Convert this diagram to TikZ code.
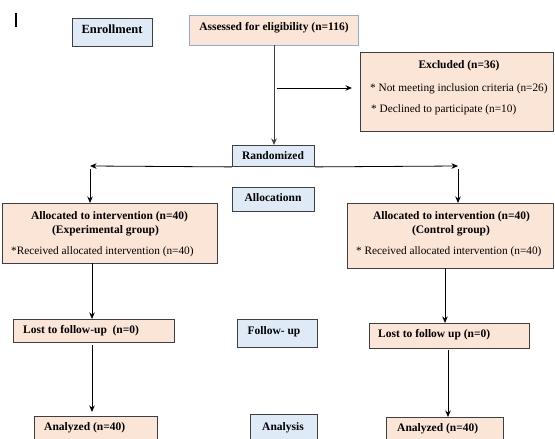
\documentclass[tikz,border=0pt]{standalone}
\usepackage{fontspec}
\setmainfont{Liberation Serif}[BoldFont={Liberation Serif Bold}]
\usetikzlibrary{arrows.meta}
\definecolor{peach}{HTML}{FBE5D6}
\definecolor{lblue}{HTML}{DEEBF7}
\definecolor{bdark}{HTML}{3F3F3F}
\definecolor{bblue}{HTML}{8FAADC}
\tikzset{
  pbox/.style={draw=bdark, fill=peach, line width=0.9pt, inner sep=0pt, anchor=north west},
  bbox/.style={draw=bdark, fill=lblue, line width=0.9pt, inner sep=0pt, anchor=north west},
  btxt/.style={inner sep=0pt, font=\fontsize{11.5}{14}\selectfont\bfseries},
  rtxt/.style={inner sep=0pt, font=\fontsize{11.3}{14}\selectfont},
  arr/.style={draw=black, line width=0.8pt, -{Stealth[length=6.5pt,width=5.5pt]}},
}
\begin{document}
\begin{tikzpicture}[x=1pt,y=-1pt]
\useasboundingbox (0,0) rectangle (555,439);
\clip (0,0) rectangle (555,439);
\fill[white] (0,0) rectangle (555,439);

% cursor mark
\draw[line width=1.6pt] (16,13) -- (16,27);

% boxes
\node[bbox, minimum width=80pt, minimum height=28pt] (enr) at (72,18) {};
\node[pbox, draw=bblue, minimum width=169pt, minimum height=30pt] (ass) at (189,15) {};
\node[pbox, minimum width=193pt, minimum height=79pt] (exc) at (360,52) {};
\node[bbox, minimum width=82pt, minimum height=21pt] (rand) at (232,145) {};
\node[bbox, minimum width=82pt, minimum height=24pt] (alloc) at (232,187) {};
\node[pbox, minimum width=215pt, minimum height=60pt] (allL) at (2,203) {};
\node[pbox, minimum width=206pt, minimum height=65pt] (allR) at (347,203) {};
\node[pbox, minimum width=161pt, minimum height=23pt] (lostL) at (13,319) {};
\node[bbox, minimum width=80pt, minimum height=28pt] (fol) at (237,319) {};
\node[pbox, minimum width=160pt, minimum height=25pt] (lostR) at (369,323) {};
\node[pbox, minimum width=123pt, minimum height=40pt] (anaL) at (34,416) {};
\node[bbox, minimum width=67pt, minimum height=40pt] (anal) at (250,414) {};
\node[pbox, minimum width=117pt, minimum height=40pt] (anaR) at (386,417) {};

% texts
\node[btxt, font=\fontsize{12.5}{14}\selectfont\bfseries, anchor=mid] (tenr) at (112,31) {Enrollment};
\node[btxt, anchor=mid] (tass) at (274,28) {Assessed for eligibility (n=116)};
\node[btxt, anchor=mid] (texc) at (459,66) {Excluded (n=36)};
\node[rtxt, anchor=mid west] (te1) at (370,89) {* Not meeting inclusion criteria (n=26)};
\node[rtxt, anchor=mid west] (te2) at (371,110) {* Declined to participate (n=10)};
\node[btxt, anchor=mid] (trand) at (273,157) {Randomized};
\node[btxt, anchor=mid] (talloc) at (273,199) {Allocationn};
\node[btxt, anchor=mid] (tl1) at (109.5,217) {Allocated to intervention (n=40)};
\node[btxt, anchor=mid] (tl2) at (105.5,231) {(Experimental group)};
\node[rtxt, anchor=mid west] (tl3) at (11,252) {*Received allocated intervention (n=40)};
\node[btxt, anchor=mid] (tr1) at (451.5,217) {Allocated to intervention (n=40)};
\node[btxt, anchor=mid] (tr2) at (451,231) {(Control group)};
\node[rtxt, anchor=mid west] (tr3) at (356,252) {* Received allocated intervention (n=40)};
\node[btxt, anchor=mid west] (tlostL) at (23,331) {Lost to follow-up\ \ (n=0)};
\node[btxt, anchor=mid] (tfol) at (274,332) {Follow- up};
\node[btxt, anchor=mid west] (tlostR) at (378,335) {Lost to follow up (n=0)};
\node[btxt, anchor=mid west] (tanaL) at (44,428) {Analyzed (n=40)};
\node[btxt, anchor=mid] (tanal) at (283,428) {Analysis};
\node[btxt, anchor=mid west] (tanaR) at (397,429) {Analyzed (n=40)};

% connectors
\coordinate (asb) at (274,45);
\draw[arr, draw=black!75] (asb) -- (asb |- rand.north);
\coordinate (e1) at (277,88);
\draw[arr] (e1) -- (352,88) coordinate (e2);
\draw[arr] (rand.south west) -- (90,166) coordinate (rl);
\draw[arr] (rand.south east) -- (458,166) coordinate (rr);
\coordinate (dl) at (90,169);
\draw[arr] (dl) -- (dl |- allL.north);
\coordinate (dr) at (458,169);
\draw[arr] (dr) -- (dr |- allR.north);
\coordinate (l1) at (92,263);
\draw[arr] (l1) -- (l1 |- lostL.north);
\coordinate (l2) at (92,345);
\draw[arr] (l2) -- (92,412);
\coordinate (r1) at (445,268);
\draw[arr] (r1) -- (r1 |- lostR.north);
\coordinate (r2) at (448,350);
\draw[arr] (r2) -- (r2 |- anaR.north);
\end{tikzpicture}
\end{document}
